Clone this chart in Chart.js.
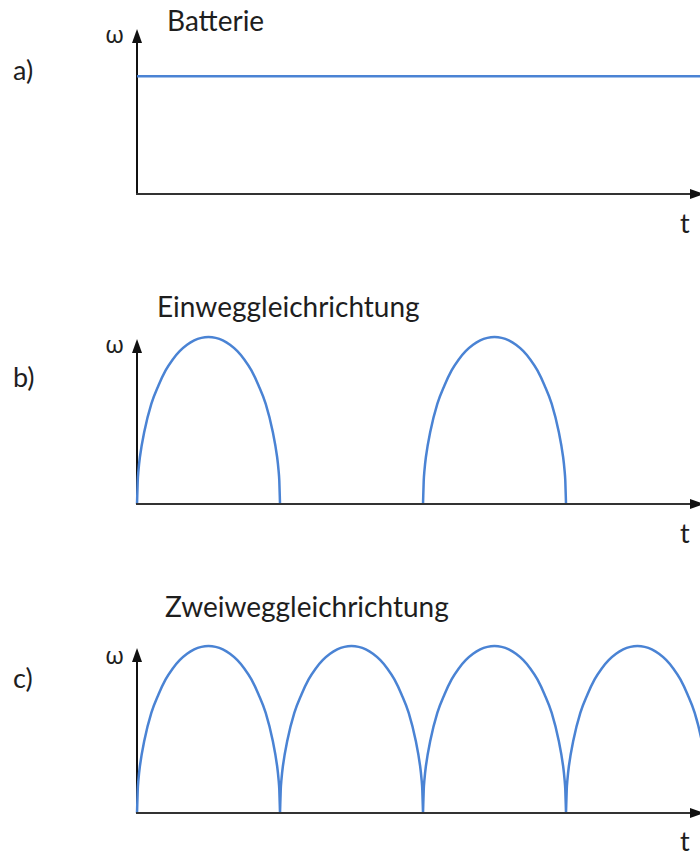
<!DOCTYPE html>
<html lang="de">

<head>
    <meta charset="UTF-8">
    <title>Batterie / Gleichrichtung</title>
    <script src="https://cdn.jsdelivr.net/npm/chart.js"></script>
</head>
<style>
    body {
        margin: 0;
        background-color: #fff;
    }

    .blatt {
        position: relative;
        width: 700px;
        height: 851px;
        overflow: hidden;
        font-family: Lato, "Open Sans", sans-serif;
        color: #1e1e1e;
    }

    .blatt canvas {
        position: absolute;
        left: 120px;
    }

    .txt {
        position: absolute;
        line-height: 1;
        white-space: nowrap;
        font-size: 27px;
    }

    .titel {
        font-size: 28px;
    }

    .omega {
        font-family: "Noto Sans", sans-serif;
        font-size: 24px;
    }
</style>

<body>
    <div class="blatt">
        <div class="txt" style="left:13px; top:56px">a)</div>
        <div class="txt" style="left:13px; top:363px">b)</div>
        <div class="txt" style="left:13px; top:664px">c)</div>

        <div class="txt titel" style="left:167px; top:6px">Batterie</div>
        <div class="txt titel" style="left:157px; top:292px">Einweggleichrichtung</div>
        <div class="txt titel" style="left:165px; top:592px">Zweiweggleichrichtung</div>

        <div class="txt omega" style="left:105px; top:22px">ω</div>
        <div class="txt omega" style="left:105px; top:332px">ω</div>
        <div class="txt omega" style="left:105px; top:643px">ω</div>

        <div class="txt" style="left:680px; top:209px">t</div>
        <div class="txt" style="left:680px; top:519px">t</div>
        <div class="txt" style="left:680px; top:827px">t</div>

        <canvas id="GraficoA" width="580" height="190" style="top:14px"></canvas>
        <canvas id="GraficoB" width="580" height="190" style="top:324px"></canvas>
        <canvas id="GraficoC" width="580" height="190" style="top:633px"></canvas>
    </div>
</body>

<script>
    // eine Halbwelle (Zeit 0..10), Werte relativ zum Scheitelwert
    const halbwelleT = [0, 0.05, 0.1, 0.2, 0.5, 1, 1.5, 2, 2.5, 3, 3.5, 4, 4.5, 5,
        5.5, 6, 6.5, 7, 7.5, 8, 8.5, 9, 9.5, 9.8, 9.9, 9.95, 10];
    const halbwelleW = [0, 0.14, 0.2, 0.28, 0.43, 0.6, 0.71, 0.8, 0.866, 0.917, 0.954, 0.98, 0.995, 1,
        0.995, 0.98, 0.954, 0.917, 0.866, 0.8, 0.71, 0.6, 0.43, 0.28, 0.2, 0.14, 0];

    // Beginn der Halbwellen
    const startEinweg = [0, 20];
    const startZweiweg = [0, 10, 20, 30];

    // Batterie: konstante Drehzahl
    const batterieT = [0, 40];
    const batterieW = [0.705, 0.705];

    const yPfeil = 0.988;   // Spitze der ω-Achse
    const tMin = -1.19, tMax = 39.37;
    const wMin = -0.06, wMax = 1.078;
    const blau = '#4a83d4';

    function halbwellen(starts) {
        var pts = [];
        starts.forEach(function (s) {
            for (var i = 0; i < halbwelleT.length; i++) {
                pts.push({ x: s + halbwelleT[i], y: halbwelleW[i] });
            }
            pts.push({ x: s + 10, y: null });
        });
        return pts;
    }

    // Achsen mit Pfeilspitzen
    const achsen = {
        id: 'achsen',
        beforeDatasetsDraw(chart) {
            const ctx = chart.ctx;
            const x0 = chart.scales.x.getPixelForValue(0);
            const y0 = chart.scales.y.getPixelForValue(0);
            const ySp = chart.scales.y.getPixelForValue(yPfeil);
            ctx.save();
            ctx.strokeStyle = '#111';
            ctx.fillStyle = '#111';
            ctx.lineWidth = 2;
            ctx.beginPath();
            ctx.moveTo(x0, y0);
            ctx.lineTo(x0, ySp + 10);
            ctx.stroke();
            ctx.beginPath();
            ctx.moveTo(x0, ySp);
            ctx.lineTo(x0 - 5, ySp + 14);
            ctx.lineTo(x0 + 5, ySp + 14);
            ctx.closePath();
            ctx.fill();
            ctx.restore();
        },
        afterDatasetsDraw(chart) {
            const ctx = chart.ctx;
            const x0 = chart.scales.x.getPixelForValue(0);
            const y0 = chart.scales.y.getPixelForValue(0);
            const xSp = chart.width + 4;
            ctx.save();
            ctx.strokeStyle = '#333';
            ctx.fillStyle = '#111';
            ctx.lineWidth = 2;
            ctx.beginPath();
            ctx.moveTo(x0 - 1, y0);
            ctx.lineTo(xSp - 10, y0);
            ctx.stroke();
            ctx.beginPath();
            ctx.moveTo(xSp, y0);
            ctx.lineTo(xSp - 14, y0 - 5);
            ctx.lineTo(xSp - 14, y0 + 5);
            ctx.closePath();
            ctx.fill();
            ctx.restore();
        }
    };

    function zeichne(id, punkte) {
        var grafico = document.getElementById(id);
        return new Chart(grafico, {
            type: 'line',
            data: {
                datasets: [{
                    data: punkte,
                    borderColor: blau,
                    borderWidth: 2.5,
                    pointRadius: 0,
                    fill: false,
                    spanGaps: false,
                    cubicInterpolationMode: 'monotone'
                }]
            },
            options: {
                responsive: false,
                animation: false,
                layout: { padding: 0 },
                plugins: {
                    legend: { display: false },
                    tooltip: { enabled: false }
                },
                scales: {
                    x: { type: 'linear', min: tMin, max: tMax, display: false },
                    y: { min: wMin, max: wMax, display: false }
                }
            },
            plugins: [achsen]
        });
    }

    zeichne('GraficoA', batterieT.map(function (t, i) { return { x: t, y: batterieW[i] }; }));
    zeichne('GraficoB', halbwellen(startEinweg));
    zeichne('GraficoC', halbwellen(startZweiweg));
</script>

</html>
